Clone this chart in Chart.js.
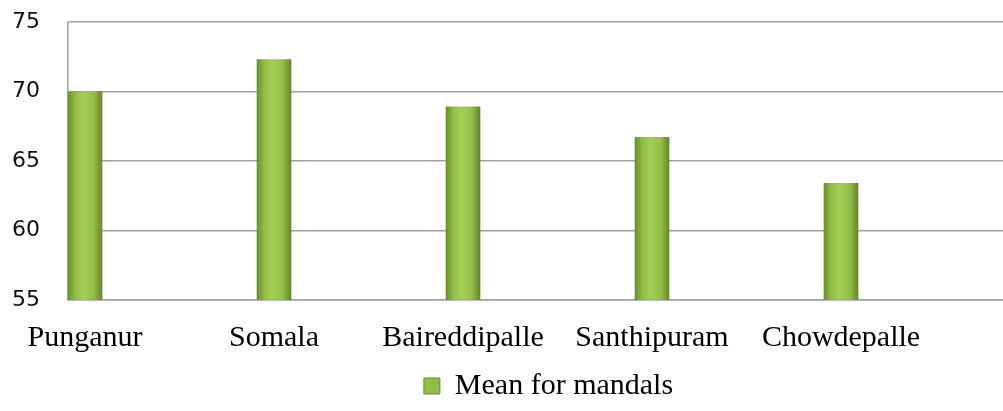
<!DOCTYPE html>
<html>
<head>
<meta charset="utf-8">
<script src="https://cdn.jsdelivr.net/npm/chart.js@4.4.1/dist/chart.umd.min.js"></script>
<style>
  html, body { margin: 0; padding: 0; background: #ffffff; }
  #wrap { width: 1003px; height: 411px; position: relative; }
</style>
</head>
<body>
<div id="wrap"><canvas id="c" width="1003" height="411"></canvas></div>
<script>
const categories = ['Punganur', 'Somala', 'Baireddipalle', 'Santhipuram', 'Chowdepalle'];
const meanValues = [70.0, 72.3, 68.9, 66.7, 63.4];
const seriesName = 'Mean for mandals';
const yTicks = [55, 60, 65, 70, 75];

const points = categories.map((c, i) => ({ x: i, y: meanValues[i] }));

function barFill(ctx) {
  const chart = ctx.chart;
  if (!chart.chartArea || ctx.type !== 'data') return '#9bc64c';
  const xs = chart.scales.x;
  const cx = xs.getPixelForValue(ctx.dataIndex);
  const g = chart.ctx.createLinearGradient(cx - 17, 0, cx + 17, 0);
  g.addColorStop(0, '#6a8f2d');
  g.addColorStop(0.2, '#8fbb45');
  g.addColorStop(0.45, '#a3cf55');
  g.addColorStop(0.75, '#94c04a');
  g.addColorStop(1, '#658829');
  return g;
}

// shift the legend a little to the right, as in the reference
const legendShift = {
  id: 'legendShift',
  afterLayout(chart) {
    const lg = chart.legend;
    if (lg) { lg.left += 13; lg.right += 13; }
  }
};

new Chart(document.getElementById('c'), {
  type: 'bar',
  plugins: [legendShift],
  data: {
    datasets: [{
      label: seriesName,
      data: points,
      backgroundColor: barFill,
      borderWidth: 0,
      barThickness: 34
    }]
  },
  options: {
    responsive: false,
    animation: false,
    layout: { padding: { top: 22, right: 0, left: 0, bottom: 0 } },
    plugins: {
      tooltip: { enabled: false },
      legend: {
        position: 'bottom',
        fullSize: false,
        labels: {
          boxWidth: 16,
          boxHeight: 16,
          color: '#000',
          padding: 2,
          font: { family: '"Liberation Serif", "Times New Roman", serif', size: 30 },
          generateLabels: (chart) => [{
            text: seriesName,
            fillStyle: '#8fbd45',
            strokeStyle: '#6a8f2d',
            lineWidth: 1,
            datasetIndex: 0
          }]
        }
      }
    },
    scales: {
      x: {
        type: 'linear',
        offset: false,
        min: -0.09,
        max: 4.857,
        afterFit: (s) => { s.height = 69; },
        grid: { display: false, drawTicks: false },
        border: { display: true, color: '#a0a0a0', width: 1.5 },
        ticks: {
          stepSize: 1,
          includeBounds: false,
          autoSkip: false,
          maxRotation: 0,
          padding: 20,
          color: '#000',
          font: { family: '"Liberation Serif", "Times New Roman", serif', size: 30 },
          callback: (v) => (Number.isInteger(v) && categories[v] !== undefined) ? categories[v] : ''
        }
      },
      y: {
        min: yTicks[0],
        max: yTicks[yTicks.length - 1],
        afterFit: (s) => { s.width = 68; s.paddingTop = 0; s.paddingBottom = 0; },
        grid: { color: '#a0a0a0', lineWidth: 1.5, drawTicks: false },
        border: { display: true, color: '#a0a0a0', width: 1.5 },
        afterBuildTicks: (s) => { s.ticks = yTicks.map(v => ({ value: v })); },
        ticks: {
          padding: 28,
          color: '#111',
          font: { family: '"DejaVu Sans", sans-serif', size: 22 }
        }
      }
    }
  }
});
</script>
</body>
</html>
